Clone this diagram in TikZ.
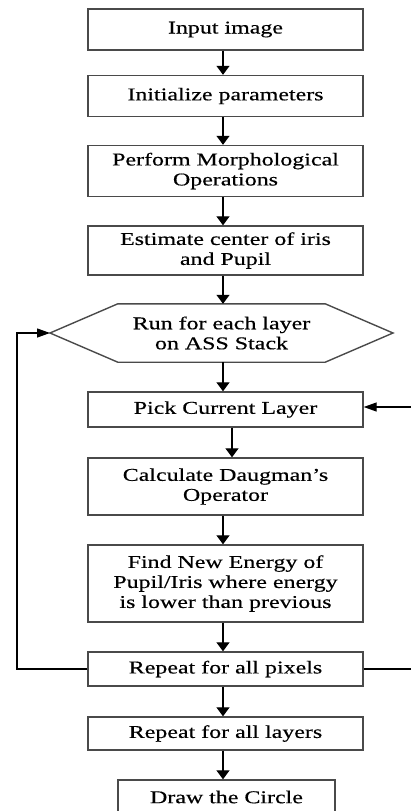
\documentclass[tikz,border=0pt]{standalone}
\usepackage{fontspec}
\setmainfont{Liberation Serif}[FakeStretch=1.33,FakeBold=0.4]
\usetikzlibrary{arrows.meta}
\definecolor{boxgray}{HTML}{4A4A4A}
\begin{document}
\begin{tikzpicture}[x=1pt,y=-1pt,
  box/.style={draw=boxgray, line width=1.4pt, minimum width=275pt, inner sep=0pt, align=center, font=\fontsize{18}{20}\selectfont},
  plain/.style={inner sep=0pt, align=center, font=\fontsize{18}{20}\selectfont},
  varr/.style={line width=1.3pt, -{Triangle[width=13pt,length=9pt]}},
  harr/.style={line width=1.3pt, -{Triangle[width=9pt,length=13pt]}}]
\useasboundingbox (0,0) rectangle (411,811);
\node[box, minimum height=41pt] (b1) at (225.5,29.5) {Input image};
\node[box, minimum height=41pt] (b2) at (225.5,96) {Initialize parameters};
\node[box, minimum height=51pt] (b3) at (225.5,171) {Perform Morphological\\Operations};
\node[box, minimum height=49pt] (b4) at (225.5,250.5) {Estimate center of iris\\and Pupil};
\node[plain, minimum width=207pt, minimum height=58pt] (hex) at (221.5,333) {Run for each layer\\on ASS Stack};
\coordinate (hexL) at (50,333);
\coordinate (hexR) at (393,333);
\draw[draw=boxgray, line width=1.4pt] (hex.north west) -- (hex.north east) -- (hexR) -- (hex.south east) -- (hex.south west) -- (hexL) -- cycle;
\node[box, minimum height=35pt] (pick) at (225.5,409.5) {Pick Current Layer};
\node[box, minimum height=57pt] (calc) at (225.5,486.5) {Calculate Daugman's\\Operator};
\node[box, minimum height=77pt] (find) at (225.5,583.5) {Find New Energy of\\Pupil/Iris where energy\\is lower than previous};
\node[box, minimum height=34pt] (pix) at (225.5,669) {Repeat for all pixels};
\node[box, minimum height=33pt] (lay) at (225.5,733.5) {Repeat for all layers};
\node[box, minimum height=34pt, minimum width=217pt] (circ) at (226.5,797) {Draw the Circle};
\draw[varr] ([xshift=-2.5pt]b1.south) -- ([xshift=-2.5pt]b2.north);
\draw[varr] ([xshift=-2.5pt]b2.south) -- ([xshift=-2.5pt]b3.north);
\draw[varr] ([xshift=-2.5pt]b3.south) -- ([xshift=-2.5pt]b4.north);
\draw[varr] ([xshift=-2.5pt]b4.south) -- ([xshift=1.5pt]hex.north);
\draw[varr] ([xshift=1.5pt]hex.south) -- ([xshift=-2.5pt]pick.north);
\draw[varr] ([xshift=6.5pt]pick.south) -- ([xshift=6.5pt]calc.north);
\draw[varr] ([xshift=-2.5pt]calc.south) -- ([xshift=-2.5pt]find.north);
\draw[varr] ([xshift=-2.5pt]find.south) -- ([xshift=-2.5pt]pix.north);
\draw[varr] ([xshift=-2.5pt]pix.south) -- ([xshift=-2.5pt]lay.north);
\draw[varr] ([xshift=-2.5pt]lay.south) -- ([xshift=-3.5pt]circ.north);
\coordinate (loopL) at (17,0);
\coordinate (loopR) at (416,407);
\draw[harr] (pix.west) -- (pix.west -| loopL) |- (hexL);
\draw[harr] (pix.east) -| (loopR) -- (loopR -| pick.east);
\end{tikzpicture}
\end{document}
